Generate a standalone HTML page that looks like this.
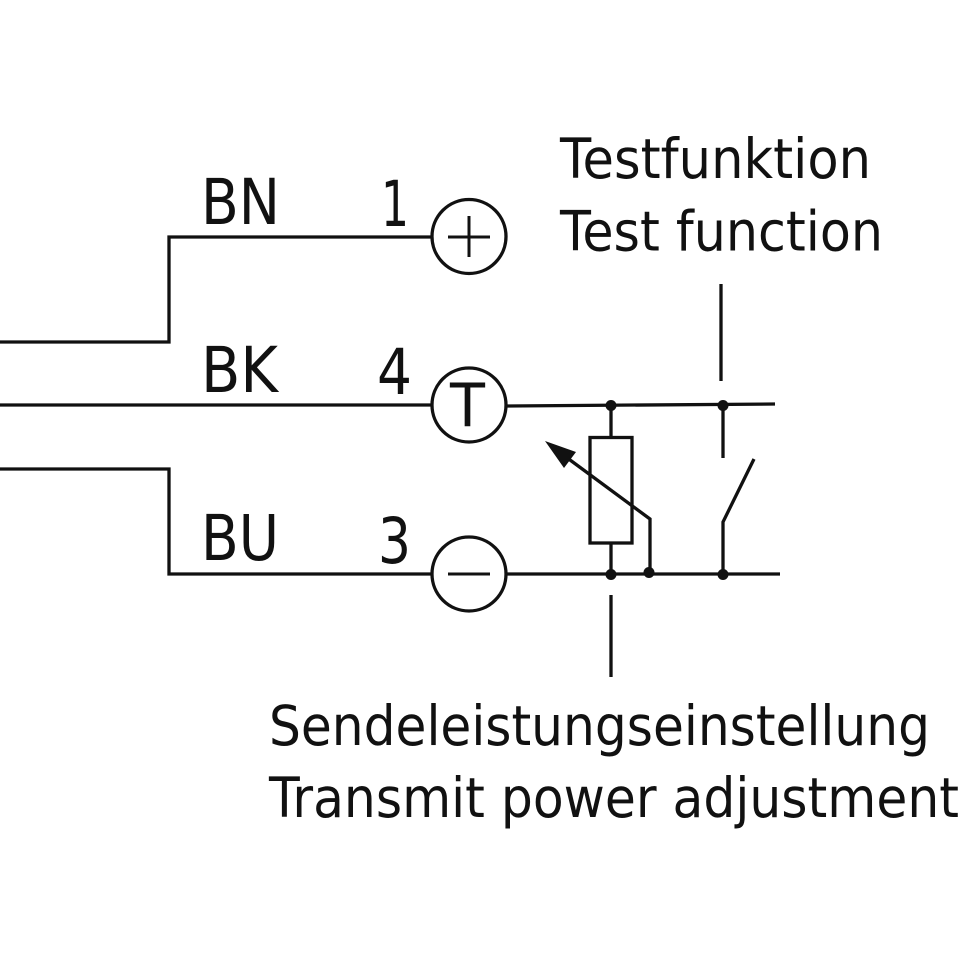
<!DOCTYPE html>
<html>
<head>
<meta charset="utf-8">
<style>
html,body{margin:0;padding:0;background:#fff;width:960px;height:960px;overflow:hidden}
svg{display:block}
text{font-family:"DejaVu Sans","Liberation Sans",sans-serif;fill:#111}
</style>
</head>
<body>
<svg width="960" height="960" viewBox="0 0 960 960" xmlns="http://www.w3.org/2000/svg">
<g fill="none" stroke="#111" stroke-width="3.3">
<polyline points="0,342 169,342 169,237 432,237"/>
<line x1="0" y1="405" x2="432" y2="405"/>
<polyline points="0,469 169,469 169,574 432,574"/>
<circle cx="469" cy="236.5" r="37"/>
<circle cx="469" cy="405" r="37"/>
<circle cx="469" cy="574" r="37"/>
<line x1="507" y1="406" x2="775" y2="404"/>
<line x1="507" y1="574" x2="780" y2="574"/>
<line x1="611" y1="405" x2="611" y2="437"/>
<line x1="611" y1="543" x2="611" y2="574"/>
<rect x="590" y="437.5" width="42" height="105.5"/>
<polyline points="566,457 650,519 650,574"/>
<line x1="721" y1="284" x2="721" y2="381"/>
<line x1="723" y1="405" x2="723" y2="458"/>
<polyline points="723,575 723,522 754,459"/>
<line x1="611" y1="595" x2="611" y2="677"/>
</g>
<g fill="none" stroke="#111" stroke-width="3">
<line x1="448" y1="237" x2="490" y2="237"/>
<line x1="469" y1="216" x2="469" y2="257"/>
<line x1="448" y1="574" x2="490" y2="574"/>
</g>
<polygon points="545,441 576,452 564,468" fill="#111"/>
<g fill="#111">
<circle cx="611" cy="405.5" r="5.5"/>
<circle cx="723" cy="405.5" r="5.5"/>
<circle cx="611" cy="574.5" r="5.5"/>
<circle cx="649" cy="572.5" r="5.5"/>
<circle cx="723" cy="574.5" r="5.5"/>
</g>
<g font-size="63">
<text x="201" y="224" textLength="79" lengthAdjust="spacingAndGlyphs">BN</text>
<text x="201" y="392" textLength="77" lengthAdjust="spacingAndGlyphs">BK</text>
<text x="201" y="560" textLength="78" lengthAdjust="spacingAndGlyphs">BU</text>
<text x="381" y="226" textLength="28" lengthAdjust="spacingAndGlyphs">1</text>
<text x="377" y="394" textLength="35" lengthAdjust="spacingAndGlyphs">4</text>
<text x="378" y="563" textLength="33" lengthAdjust="spacingAndGlyphs">3</text>
</g>
<text x="450" y="426" font-size="60" textLength="35" lengthAdjust="spacingAndGlyphs">T</text>
<g font-size="55.5">
<text x="560" y="178" textLength="311" lengthAdjust="spacingAndGlyphs">Testfunktion</text>
<text x="560" y="250.5" textLength="323" lengthAdjust="spacingAndGlyphs">Test function</text>
<text x="269" y="745" textLength="661" lengthAdjust="spacingAndGlyphs">Sendeleistungseinstellung</text>
<text x="269" y="817" textLength="690" lengthAdjust="spacingAndGlyphs">Transmit power adjustment</text>
</g>
</svg>
</body>
</html>
